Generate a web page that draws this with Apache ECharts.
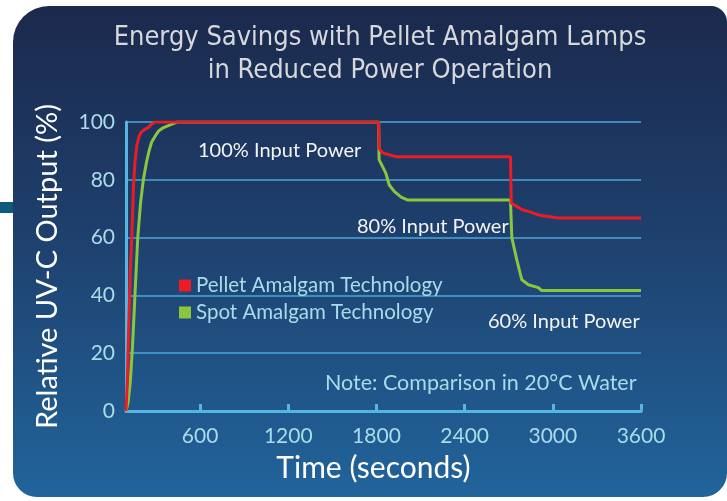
<!DOCTYPE html>
<html>
<head>
<meta charset="utf-8">
<script src="https://cdn.jsdelivr.net/npm/echarts@6/dist/echarts.min.js"></script>
<style>
  html, body { margin: 0; padding: 0; background: #ffffff; }
  #chart { width: 727px; height: 501px; }
</style>
</head>
<body>
<div id="chart"></div>
<script>
// time (s) and relative UV-C output (%)
var pelletTime  = [96, 105, 115, 125, 137, 147, 157, 170, 185, 200, 225, 246, 265, 293, 1815, 1818, 1837, 1863, 1932, 2712, 2717, 2755, 2789, 2845, 2912, 3036, 3600];
var pelletValue = [0, 10, 30, 48, 62, 78, 86, 92, 95, 96.5, 97.5, 98, 99, 100, 100, 91, 89.5, 89, 88, 88, 72, 70.8, 69.7, 68.9, 67.7, 66.8, 66.8];

var spotTime  = [96, 110, 125, 140, 155, 176, 195, 214, 235, 253, 270, 293, 320, 348, 396, 443, 1815, 1818, 1863, 1886, 1921, 1968, 2014, 2712, 2721, 2755, 2789, 2834, 2901, 2924, 3600];
var spotValue = [0, 3, 10, 22, 38, 60, 72, 80, 86, 90, 93, 95, 97, 98, 99, 100, 100, 87, 82.4, 78.3, 76, 74, 73, 73, 60, 52.3, 45.4, 43.7, 42.7, 41.7, 41.7];

var xTicks = [600, 1200, 1800, 2400, 3000, 3600];
var seriesNames = ['Pellet Amalgam Technology', 'Spot Amalgam Technology'];

function pairs(xs, ys) {
    return xs.map(function (x, i) { return [x, ys[i]]; });
}

var chartDom = document.getElementById('chart');
var myChart = echarts.init(chartDom);
var option;

var labelFont = 'Lato';

option = {
    backgroundColor: '#ffffff',
    animation: false,
    title: {
        text: 'Energy Savings with Pellet Amalgam Lamps\nin Reduced Power Operation',
        left: 375,
        textAlign: 'center',
        top: 16,
        textStyle: {
            color: '#d6d8dc',
            fontFamily: '"DejaVu Sans Condensed", Roboto',
            fontWeight: 'normal',
            fontSize: 27,
            lineHeight: 33
        }
    },
    graphic: [
        {
            type: 'rect',
            z: -10,
            shape: { x: 13, y: 6, width: 714, height: 491, r: [36, 16, 24, 24] },
            style: {
                fill: {
                    type: 'linear', x: 0, y: 0, x2: 0, y2: 1,
                    colorStops: [
                        { offset: 0, color: '#1b294c' },
                        { offset: 0.45, color: '#1e3f6c' },
                        { offset: 1, color: '#21649b' }
                    ]
                }
            }
        },
        {
            type: 'rect',
            z: -9,
            shape: { x: 0, y: 202, width: 13, height: 11 },
            style: { fill: '#0c5b7c' }
        },
        {
            type: 'text', left: 198, top: 141,
            style: { text: '100% Input Power', fill: '#f2f4f6', font: '20px ' + labelFont }
        },
        {
            type: 'text', left: 357, top: 217,
            style: { text: '80% Input Power', fill: '#f2f4f6', font: '20px ' + labelFont }
        },
        {
            type: 'text', left: 488, top: 312,
            style: { text: '60% Input Power', fill: '#f2f4f6', font: '20px ' + labelFont }
        },
        {
            type: 'text', left: 325, top: 372,
            style: { text: 'Note: Comparison in 20°C Water', fill: '#a9dbea', font: '21.5px ' + labelFont }
        }
    ],
    legend: {
        data: seriesNames,
        orient: 'vertical',
        left: 174,
        top: 270,
        icon: 'rect',
        itemWidth: 12,
        itemHeight: 12,
        itemGap: 6,
        textStyle: { color: '#a9dbea', fontSize: 20.5, fontFamily: labelFont }
    },
    grid: { left: 126, right: 86, top: 122, bottom: 90 },
    xAxis: {
        type: 'value',
        min: 96,
        max: 3600,
        name: 'Time (seconds)',
        nameLocation: 'middle',
        nameGap: 42,
        nameTextStyle: { color: '#ffffff', fontSize: 30, fontFamily: labelFont, padding: [0, 20, 0, 0] },
        axisLine: { lineStyle: { color: '#55b6e3', width: 3 } },
        axisTick: {
            inside: true, length: 7,
            customValues: xTicks,
            lineStyle: { color: '#55b6e3', width: 3 }
        },
        axisLabel: {
            customValues: xTicks,
            formatter: function (v) { return String(v); },
            margin: 15,
            color: '#a9dbea', fontSize: 21, fontFamily: labelFont
        },
        splitLine: { show: false }
    },
    yAxis: {
        type: 'value',
        min: 0,
        max: 100,
        interval: 20,
        name: 'Relative UV-C Output (%)',
        nameLocation: 'middle',
        nameGap: 64,
        nameTextStyle: { color: '#ffffff', fontSize: 29, fontFamily: labelFont },
        axisLine: { show: true, lineStyle: { color: '#55b6e3', width: 3 } },
        axisTick: { show: false },
        axisLabel: { margin: 11, color: '#a9dbea', fontSize: 21, fontFamily: labelFont },
        splitLine: { lineStyle: { color: '#4aa7d8', width: 1.5 } }
    },
    series: [
        {
            name: seriesNames[0],
            type: 'line',
            data: pairs(pelletTime, pelletValue),
            showSymbol: false,
            lineStyle: { color: '#ec1c24', width: 3 },
            itemStyle: { color: '#ec1c24' },
            z: 3
        },
        {
            name: seriesNames[1],
            type: 'line',
            data: pairs(spotTime, spotValue),
            showSymbol: false,
            lineStyle: { color: '#8cc63f', width: 3 },
            itemStyle: { color: '#8cc63f' },
            z: 2
        }
    ]
};

option && myChart.setOption(option);
</script>
</body>
</html>
